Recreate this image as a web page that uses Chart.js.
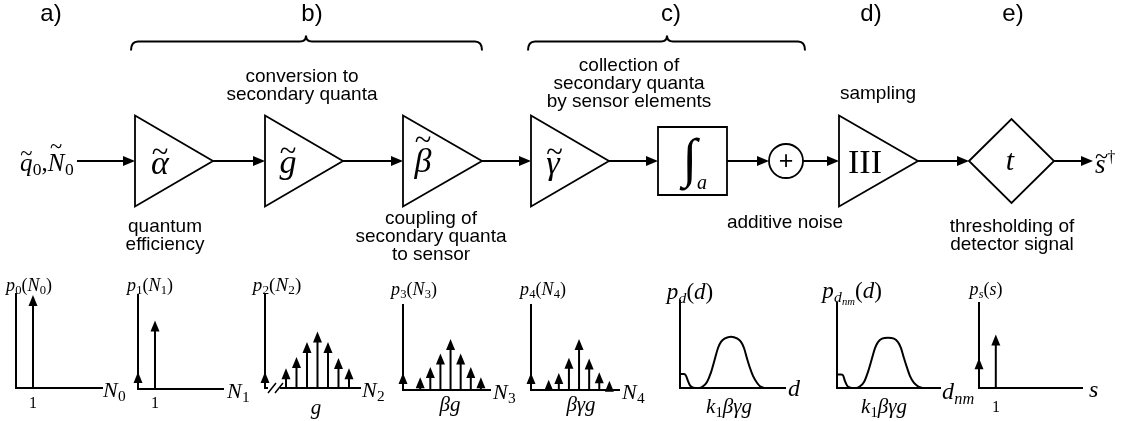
<!DOCTYPE html>
<html>
<head>
<meta charset="utf-8">
<script src="https://cdn.jsdelivr.net/npm/chart.js@4.4.1/dist/chart.umd.min.js"></script>
<style>
  body { margin: 0; background: #fff; }
  #stage { position: relative; width: 1147px; height: 421px; overflow: hidden; background: #fff; }
  #stage canvas { position: absolute; }
  .t { position: absolute; transform: translate(-50%, -50%); white-space: nowrap; line-height: 1; color: #000; z-index: 2; }
  .t.l { transform: translate(0, -50%); }
  .sans { font-family: "Liberation Sans", Arial, Helvetica, sans-serif; font-size: 19px; }
  .hd { font-family: "Liberation Sans", Arial, Helvetica, sans-serif; font-size: 24px; }
  .m { font-family: "Liberation Serif", "Times New Roman", serif; font-style: italic; }
  .u { font-style: normal; }
  .sb { font-size: .7em; font-style: normal; position: relative; top: .25em; margin-left: .02em; }
  .sbi { font-size: .68em; position: relative; top: .28em; margin-left: .02em; }
  .sp { font-size: .6em; font-style: normal; position: relative; top: -.65em; margin-left: .1em; }
  .tl { position: relative; display: inline-block; }
  .tl::after { content: "~"; position: absolute; left: 0; right: 0; text-align: center; top: -.3em; font-style: normal; font-size: .9em; }
  .tl.hi::after { top: -.62em; }
</style>
</head>
<body>
<div id="stage">
  <canvas id="diagram" width="1147" height="421" style="left:0;top:0"></canvas>

  <!-- stage letters -->
  <div class="t hd" style="left:51px;top:13px">a)</div>
  <div class="t hd" style="left:312px;top:13px">b)</div>
  <div class="t hd" style="left:671px;top:13px">c)</div>
  <div class="t hd" style="left:871px;top:13px">d)</div>
  <div class="t hd" style="left:1013px;top:13px">e)</div>

  <!-- captions -->
  <div class="t sans" style="left:302px;top:75px">conversion to</div>
  <div class="t sans" style="left:302px;top:93px">secondary quanta</div>
  <div class="t sans" style="left:629px;top:64px">collection of</div>
  <div class="t sans" style="left:629px;top:82px">secondary quanta</div>
  <div class="t sans" style="left:629px;top:100px">by sensor elements</div>
  <div class="t sans" style="left:878px;top:92px">sampling</div>
  <div class="t sans" style="left:165px;top:225px">quantum</div>
  <div class="t sans" style="left:165px;top:243px">efficiency</div>
  <div class="t sans" style="left:431px;top:217px">coupling of</div>
  <div class="t sans" style="left:431px;top:235px">secondary quanta</div>
  <div class="t sans" style="left:431px;top:253px">to sensor</div>
  <div class="t sans" style="left:785px;top:221px">additive noise</div>
  <div class="t sans" style="left:1012px;top:225px">thresholding of</div>
  <div class="t sans" style="left:1012px;top:243px">detector signal</div>

  <!-- block symbols -->
  <div class="t m l" style="left:20px;top:162px;font-size:25px"><span class="tl">q</span><span class="sb">0</span><span class="u">,</span><span class="tl hi">N</span><span class="sb">0</span></div>
  <div class="t m" style="left:160px;top:163px;font-size:34px"><span class="tl">α</span></div>
  <div class="t m" style="left:288px;top:162px;font-size:34px"><span class="tl">g</span></div>
  <div class="t m" style="left:423px;top:161px;font-size:34px"><span class="tl hi">β</span></div>
  <div class="t m" style="left:553px;top:163px;font-size:34px"><span class="tl">γ</span></div>
  <div class="t m u" style="left:690px;top:158px;font-size:54px">∫</div>
  <div class="t m" style="left:702px;top:182px;font-size:20px">a</div>
  <div class="t sans" style="left:786px;top:160px;font-size:25px">+</div>
  <div class="t m u" style="left:865px;top:162px;font-size:34px">III</div>
  <div class="t m" style="left:1010px;top:160px;font-size:30px">t</div>
  <div class="t m l" style="left:1095px;top:164px;font-size:27px"><span class="tl">s</span><span class="sp">†</span></div>

  <!-- distribution labels -->
  <div class="t m" style="left:29px;top:285px;font-size:18px">p<span class="sb">0</span><span class="u">(</span>N<span class="sb">0</span><span class="u">)</span></div>
  <div class="t m" style="left:150px;top:285px;font-size:18px">p<span class="sb">1</span><span class="u">(</span>N<span class="sb">1</span><span class="u">)</span></div>
  <div class="t m" style="left:277px;top:284px;font-size:19px">p<span class="sb">2</span><span class="u">(</span>N<span class="sb">2</span><span class="u">)</span></div>
  <div class="t m" style="left:414px;top:289px;font-size:18px">p<span class="sb">3</span><span class="u">(</span>N<span class="sb">3</span><span class="u">)</span></div>
  <div class="t m" style="left:543px;top:289px;font-size:18px">p<span class="sb">4</span><span class="u">(</span>N<span class="sb">4</span><span class="u">)</span></div>
  <div class="t m" style="left:690px;top:291px;font-size:23px">p<span class="sbi">d</span><span class="u">(</span>d<span class="u">)</span></div>
  <div class="t m" style="left:852px;top:290px;font-size:23px">p<span class="sbi">d<span class="sbi">nm</span></span><span class="u">(</span>d<span class="u">)</span></div>
  <div class="t m" style="left:986px;top:289px;font-size:18px">p<span class="sbi">s</span><span class="u">(</span>s<span class="u">)</span></div>

  <!-- axis names -->
  <div class="t m l" style="left:103px;top:390px;font-size:22px">N<span class="sb">0</span></div>
  <div class="t m l" style="left:227px;top:391px;font-size:22px">N<span class="sb">1</span></div>
  <div class="t m l" style="left:362px;top:390px;font-size:22px">N<span class="sb">2</span></div>
  <div class="t m l" style="left:493px;top:392px;font-size:22px">N<span class="sb">3</span></div>
  <div class="t m l" style="left:622px;top:392px;font-size:22px">N<span class="sb">4</span></div>
  <div class="t m l" style="left:788px;top:388px;font-size:24px">d</div>
  <div class="t m l" style="left:942px;top:391px;font-size:24px">d<span class="sbi">nm</span></div>
  <div class="t m l" style="left:1089px;top:389px;font-size:24px">s</div>

  <!-- axis marks -->
  <div class="t m u" style="left:33px;top:403px;font-size:16px">1</div>
  <div class="t m u" style="left:155px;top:403px;font-size:16px">1</div>
  <div class="t m u" style="left:996px;top:407px;font-size:16px">1</div>
  <div class="t m" style="left:316px;top:407px;font-size:21px">g</div>
  <div class="t m" style="left:450px;top:404px;font-size:21px">βg</div>
  <div class="t m" style="left:581px;top:404px;font-size:21px">βγg</div>
  <div class="t m" style="left:729px;top:406px;font-size:21px">k<span class="sb">1</span>βγg</div>
  <div class="t m" style="left:884px;top:406px;font-size:21px">k<span class="sb">1</span>βγg</div>
</div>

<script>
// ---- distributions -------------------------------------------------------
// p0(N0): one quantum per incident photon
const n0Pos = [1];
const n0Prob = [0.99];
// p1(N1): after the quantum efficiency stage
const n1Pos = [0, 1];
const n1Prob = [0.18, 0.73];
// p2(N2): secondary quanta spread around g
const n2Pos = [0, 2, 3, 4, 5, 6, 7, 8];
const n2Prob = [0.17, 0.21, 0.33, 0.49, 0.60, 0.49, 0.32, 0.21];
// p3(N3): coupled to the sensor, around beta*g
const n3Pos = [0, 1.7, 2.7, 3.7, 4.7, 5.7, 6.7, 7.7];
const n3Prob = [0.20, 0.15, 0.27, 0.43, 0.60, 0.43, 0.27, 0.15];
// p4(N4): collected by the sensor elements, around beta*gamma*g
const n4Pos = [0, 1.75, 2.75, 3.75, 4.75, 5.75, 6.75, 7.75];
const n4Prob = [0.20, 0.12, 0.20, 0.38, 0.60, 0.37, 0.21, 0.11];
// pd(d): detector signal with additive noise
const dVal = [0, 0.4, 0.6, 0.8, 1.0, 1.2, 1.5, 1.9, 2.3, 2.7, 3.1, 3.5, 3.8, 4.1, 4.5, 5.1, 5.7, 6.1, 6.4, 6.7, 7.0, 7.3, 7.7, 8.0, 8.4];
const dDens = [0.16, 0.16, 0.14, 0.08, 0.03, 0.01, 0, 0, 0.02, 0.07, 0.18, 0.34, 0.46, 0.53, 0.57, 0.59, 0.57, 0.53, 0.46, 0.34, 0.23, 0.14, 0.06, 0.02, 0];
// pdnm(d): sampled detector signal
const dnmVal = [0, 0.4, 0.6, 0.8, 1.0, 1.2, 1.5, 1.9, 2.3, 2.7, 3.1, 3.5, 3.8, 4.1, 4.5, 5.1, 5.7, 6.1, 6.4, 6.7, 7.0, 7.3, 7.7, 8.1, 8.5];
const dnmDens = [0.16, 0.16, 0.15, 0.08, 0.03, 0.01, 0, 0, 0.02, 0.07, 0.19, 0.35, 0.47, 0.54, 0.58, 0.59, 0.58, 0.54, 0.47, 0.35, 0.24, 0.14, 0.06, 0.02, 0];
// ps(s): thresholded output
const sPos = [0, 1];
const sProb = [0.35, 0.63];

// ---- block diagram layout --------------------------------------------------
const mainY = 161;
const blocks = [
    { kind: 'amp', x0: 135, x1: 213 },
    { kind: 'amp', x0: 265, x1: 343 },
    { kind: 'amp', x0: 403, x1: 482 },
    { kind: 'amp', x0: 531, x1: 609 },
    { kind: 'box', x0: 658, x1: 727 },
    { kind: 'sum', x0: 769, x1: 803 },
    { kind: 'amp', x0: 839, x1: 918 },
    { kind: 'diamond', x0: 969, x1: 1054 },
];
const wires = [[77, 135], [213, 265], [343, 403], [482, 531], [609, 658], [727, 769], [803, 839], [918, 969], [1054, 1093]];
const braces = [{ x0: 131, x1: 482, xm: 306 }, { x0: 528, x1: 805, xm: 667 }];

// where each little plot sits (axis origin, axis length/height)
const panels = [
    { ox: 16, oy: 388, w: 86, h: 94, xMax: 5.06, pos: n0Pos, val: n0Prob },
    { ox: 138, oy: 389, w: 85, h: 94, xMax: 5.0, pos: n1Pos, val: n1Prob },
    { ox: 265, oy: 388, w: 95, h: 94, xMax: 9.05, pos: n2Pos, val: n2Prob, axisBreak: true },
    { ox: 403, oy: 390, w: 87, h: 85, xMax: 8.6, pos: n3Pos, val: n3Prob },
    { ox: 531, oy: 390, w: 88, h: 85, xMax: 8.7, pos: n4Pos, val: n4Prob },
    { ox: 680, oy: 388, w: 105, h: 87, xMax: 10.5, pos: dVal, val: dDens, curve: true },
    { ox: 837, oy: 388, w: 103, h: 85, xMax: 10.3, pos: dnmVal, val: dnmDens, curve: true },
    { ox: 979, oy: 388, w: 103, h: 85, xMax: 6.13, pos: sPos, val: sProb },
];

const toPoints = (xs, ys) => xs.map((x, i) => ({ x: x, y: ys[i] }));

// Draws every point of a 'stems' dataset as a vertical arrow from zero.
const stemPlugin = {
    id: 'stems',
    afterDatasetsDraw(chart) {
        const { ctx, scales: { x, y } } = chart;
        chart.data.datasets.forEach(ds => {
            if (ds.label !== 'stems') return;
            ds.data.forEach(p => {
                const px = x.getPixelForValue(p.x);
                const top = y.getPixelForValue(p.y);
                const base = y.getPixelForValue(0);
                ctx.save();
                ctx.strokeStyle = '#000';
                ctx.fillStyle = '#000';
                ctx.lineWidth = 2;
                ctx.beginPath();
                ctx.moveTo(px, base);
                ctx.lineTo(px, top + 8);
                ctx.stroke();
                ctx.beginPath();
                ctx.moveTo(px, top);
                ctx.lineTo(px - 4.5, top + 11);
                ctx.lineTo(px + 4.5, top + 11);
                ctx.closePath();
                ctx.fill();
                ctx.restore();
            });
        });
    }
};

// Cuts the N2 axis with a double slash next to the origin.
const breakPlugin = {
    id: 'axisBreak',
    afterDraw(chart, args, opts) {
        if (!opts.on) return;
        const { ctx, scales: { x, y } } = chart;
        const x0 = x.getPixelForValue(0);
        const base = y.getPixelForValue(0);
        ctx.save();
        ctx.fillStyle = '#fff';
        ctx.fillRect(x0 + 3, base - 3, 12, 6);
        ctx.strokeStyle = '#000';
        ctx.lineWidth = 1.5;
        ctx.beginPath();
        ctx.moveTo(x0 + 3, base + 5);
        ctx.lineTo(x0 + 11, base - 5);
        ctx.moveTo(x0 + 10, base + 5);
        ctx.lineTo(x0 + 18, base - 5);
        ctx.stroke();
        ctx.restore();
    }
};

const axisStyle = {
    display: true,
    grid: { display: false, drawTicks: false },
    ticks: { display: false },
    border: { display: true, color: '#000', width: 2 },
};

const stage = document.getElementById('stage');

function miniChart(p) {
    const pad = 14;
    const cv = document.createElement('canvas');
    cv.width = p.w + 2 * pad;
    cv.height = p.h + 2 * pad;
    cv.style.left = (p.ox - pad) + 'px';
    cv.style.top = (p.oy - p.h - pad) + 'px';
    stage.appendChild(cv);

    const pts = toPoints(p.pos, p.val);
    const dataset = p.curve
        ? { label: 'curve', data: pts, showLine: true, pointRadius: 0, borderColor: '#000', borderWidth: 2, cubicInterpolationMode: 'monotone', fill: false, clip: 4 }
        : { label: 'stems', data: pts, pointRadius: 0 };

    return new Chart(cv, {
        type: 'scatter',
        data: { datasets: [dataset] },
        options: {
            responsive: false,
            animation: false,
            devicePixelRatio: 1,
            events: [],
            layout: { padding: pad },
            plugins: {
                legend: { display: false },
                tooltip: { enabled: false },
                axisBreak: { on: !!p.axisBreak },
            },
            scales: {
                x: { type: 'linear', min: 0, max: p.xMax, ...axisStyle },
                y: { type: 'linear', min: 0, max: 1, ...axisStyle },
            }
        },
        plugins: [stemPlugin, breakPlugin]
    });
}

// The signal chain: amplifiers, integrator, adder, threshold and braces.
const diagramPlugin = {
    id: 'blockDiagram',
    afterDraw(chart) {
        const { ctx, scales: { x, y } } = chart;
        const X = v => x.getPixelForValue(v);
        const Y = v => y.getPixelForValue(v);
        const cy = Y(mainY);
        ctx.save();
        ctx.strokeStyle = '#000';
        ctx.fillStyle = '#000';

        ctx.lineWidth = 2;
        wires.forEach(([a, b]) => {
            ctx.beginPath();
            ctx.moveTo(X(a), cy);
            ctx.lineTo(X(b) - 10, cy);
            ctx.stroke();
            ctx.beginPath();
            ctx.moveTo(X(b), cy);
            ctx.lineTo(X(b) - 12, cy - 5);
            ctx.lineTo(X(b) - 12, cy + 5);
            ctx.closePath();
            ctx.fill();
        });

        ctx.lineWidth = 1.8;
        blocks.forEach(b => {
            const x0 = X(b.x0), x1 = X(b.x1), xm = (x0 + x1) / 2;
            ctx.beginPath();
            if (b.kind === 'amp') {
                ctx.moveTo(x0, cy - 45.5);
                ctx.lineTo(x1, cy);
                ctx.lineTo(x0, cy + 45.5);
                ctx.closePath();
            } else if (b.kind === 'box') {
                ctx.rect(x0, cy - 34, x1 - x0, 68);
            } else if (b.kind === 'sum') {
                ctx.arc(xm, cy, (x1 - x0) / 2, 0, Math.PI * 2);
            } else if (b.kind === 'diamond') {
                ctx.moveTo(x0, cy);
                ctx.lineTo(xm, cy - 42);
                ctx.lineTo(x1, cy);
                ctx.lineTo(xm, cy + 42);
                ctx.closePath();
            }
            ctx.stroke();
        });

        ctx.lineWidth = 2;
        const yb = Y(41.5);
        braces.forEach(br => {
            const x0 = X(br.x0), x1 = X(br.x1), xm = X(br.xm);
            ctx.beginPath();
            ctx.moveTo(x0, yb + 9);
            ctx.quadraticCurveTo(x0, yb, x0 + 7, yb);
            ctx.lineTo(xm - 6, yb);
            ctx.quadraticCurveTo(xm, yb, xm, yb - 6);
            ctx.quadraticCurveTo(xm, yb, xm + 6, yb);
            ctx.lineTo(x1 - 7, yb);
            ctx.quadraticCurveTo(x1, yb, x1, yb + 9);
            ctx.stroke();
        });
        ctx.restore();
    }
};

new Chart(document.getElementById('diagram'), {
    type: 'scatter',
    data: { datasets: [] },
    options: {
        responsive: false,
        animation: false,
        devicePixelRatio: 1,
        events: [],
        layout: { padding: 0 },
        plugins: { legend: { display: false }, tooltip: { enabled: false } },
        scales: {
            x: { type: 'linear', min: 0, max: 1147, display: false },
            y: { type: 'linear', min: 0, max: 421, reverse: true, display: false },
        }
    },
    plugins: [diagramPlugin]
});

panels.forEach(miniChart);
</script>
</body>
</html>
